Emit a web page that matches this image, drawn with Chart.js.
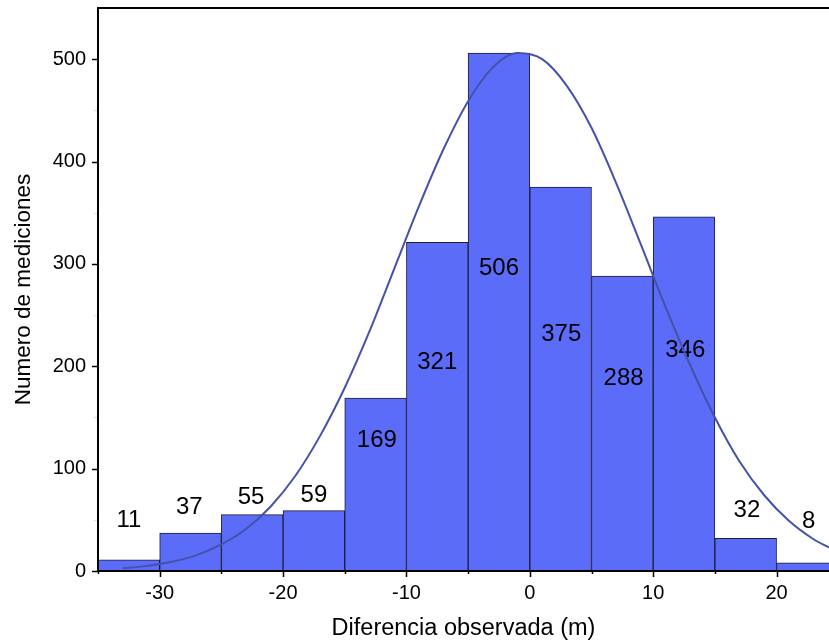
<!DOCTYPE html>
<html><head><meta charset="utf-8">
<script src="https://cdn.jsdelivr.net/npm/chart.js@4.4.1/dist/chart.umd.min.js"></script>
<style>html,body{margin:0;padding:0;background:#fff;overflow:hidden}canvas{display:block}</style>
</head><body>
<canvas id="c" width="829" height="644"></canvas>
<script>
// ---- data ----
const binCenters = [-32.5, -27.5, -22.5, -17.5, -12.5, -7.5, -2.5, 2.5, 7.5, 12.5, 17.5, 22.5];
const counts = [11, 37, 55, 59, 169, 321, 506, 375, 288, 346, 32, 8];
const curveX = [-33, -31, -29, -27, -25, -23, -21, -19, -17, -15, -13, -11, -9, -7, -5, -3, -1, 1, 3, 5, 7, 9, 11, 13, 15, 17, 19, 21, 23, 24.25];
const curveY = [2.7, 5, 9, 15.5, 26, 41, 63, 93, 132, 179, 234, 295, 356, 412, 459, 492, 506, 500, 474, 433, 379, 319, 258, 201, 150, 107, 74, 49, 31, 23];
const xTickValues = [-35, -30, -25, -20, -15, -10, -5, 0, 5, 10, 15, 20];
const yTickValues = [0, 100, 200, 300, 400, 500];
const yMinorValues = [50, 150, 250, 350, 450];

const FONT = "'Liberation Sans', Arial, sans-serif";
Chart.defaults.font.family = FONT;
Chart.defaults.color = '#000';

const labelPlugin = {
  id: 'barLabels',
  afterDatasetDraw(chart, args, opts) {
    if (args.meta.type !== 'bar') return;
    const ctx = chart.ctx, xs = chart.scales.x, ys = chart.scales.y;
    ctx.save();
    ctx.font = opts.size + 'px ' + FONT;
    ctx.fillStyle = '#000';
    ctx.textAlign = 'center';
    ctx.textBaseline = 'middle';
    counts.forEach((c, i) => {
      const px = xs.getPixelForValue(binCenters[i] + opts.dx[i]);
      const py = ys.getPixelForValue(opts.anchors[i]);
      ctx.fillText(String(c), px, py);
    });
    ctx.restore();
  }
};

const framePlugin = {
  id: 'frame',
  afterDraw(chart) {
    const ctx = chart.ctx, a = chart.chartArea, xs = chart.scales.x, ys = chart.scales.y;
    ctx.save();
    ctx.strokeStyle = '#000';
    ctx.lineWidth = 1.5;
    xTickValues.forEach(v => {
      const px = Math.round(xs.getPixelForValue(v)) + 0.5;
      const len = (v % 10 === 0) ? 6 : 3;
      ctx.beginPath(); ctx.moveTo(px, a.bottom); ctx.lineTo(px, a.bottom + len); ctx.stroke();
    });
    yTickValues.forEach(v => {
      const py = Math.round(ys.getPixelForValue(v)) + 0.5;
      ctx.beginPath(); ctx.moveTo(a.left - 6, py); ctx.lineTo(a.left, py); ctx.stroke();
    });
    ctx.strokeStyle = '#e4e4e4';
    yMinorValues.forEach(v => {
      const py = Math.round(ys.getPixelForValue(v)) + 0.5;
      ctx.beginPath(); ctx.moveTo(a.left - 4, py); ctx.lineTo(a.left, py); ctx.stroke();
    });
    ctx.strokeStyle = '#000';
    ctx.lineWidth = 2;
    ctx.beginPath();
    ctx.moveTo(a.right + 2, a.top);
    ctx.lineTo(a.left, a.top);
    ctx.lineTo(a.left, a.bottom);
    ctx.lineTo(a.right + 2, a.bottom);
    ctx.stroke();
    ctx.restore();
  }
};

new Chart(document.getElementById('c'), {
  type: 'bar',
  data: {
    datasets: [
      {
        type: 'line',
        order: 1,
        data: curveX.map((x, i) => ({ x: x, y: curveY[i] })),
        borderColor: '#4552a8',
        borderWidth: 2,
        pointRadius: 0,
        fill: false,
        cubicInterpolationMode: 'monotone'
      },
      {
        type: 'bar',
        order: 2,
        data: binCenters.map((x, i) => ({ x: x, y: counts[i] })),
        backgroundColor: '#5b6cf9',
        borderColor: '#1c1c3c',
        borderWidth: 1,
        barPercentage: 1,
        categoryPercentage: 1,
        grouped: false
      }
    ]
  },
  options: {
    responsive: false,
    animation: false,
    events: [],
    layout: { padding: { top: 8, right: 0, left: 0, bottom: 0 } },
    plugins: {
      legend: { display: false },
      tooltip: { enabled: false },
      barLabels: {
        size: 24,
        anchors: [49, 62, 72, 74, 128, 203.5, 296, 231, 188, 216, 59.6, 48.5],
        dx: [0, -0.1, -0.1, 0, 0.1, 0, 0, 0.05, 0.1, 0.1, 0.1, 0.1]
      }
    },
    scales: {
      x: {
        type: 'linear',
        min: -35,
        max: 24.25,
        offset: false,
        grid: { display: false, drawTicks: false },
        border: { display: false },
        afterBuildTicks: s => { s.ticks = xTickValues.map(v => ({ value: v })); },
        ticks: {
          autoSkip: false,
          maxRotation: 0,
          padding: 10,
          color: '#000',
          font: { size: 20 },
          callback: v => (v % 10 === 0 ? String(v) : '')
        },
        title: {
          display: true,
          text: 'Diferencia observada (m)',
          color: '#000',
          font: { size: 23.5 },
          padding: { top: 0, bottom: 1 }
        },
        afterFit: s => { s.height = 73; s.paddingLeft = 0; s.paddingRight = 0; }
      },
      y: {
        type: 'linear',
        min: 0,
        max: 550,
        grid: { display: false, drawTicks: false },
        border: { display: false },
        afterBuildTicks: s => { s.ticks = yTickValues.map(v => ({ value: v })); },
        ticks: {
          padding: 12,
          color: '#000',
          font: { size: 20 },
          callback: v => String(v)
        },
        title: {
          display: true,
          text: 'Numero de mediciones',
          color: '#000',
          font: { size: 22.5 },
          padding: { top: 10, bottom: 0 }
        },
        afterFit: s => { s.width = 98; s.paddingTop = 0; s.paddingBottom = 0; }
      }
    }
  },
  plugins: [labelPlugin, framePlugin]
});
</script>
</body></html>
